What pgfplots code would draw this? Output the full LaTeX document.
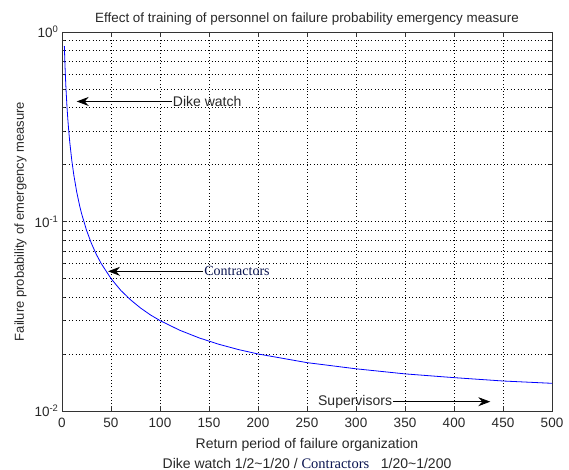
\documentclass[border=0pt]{standalone}
\usepackage{pgfplots}
\pgfplotsset{compat=1.18}
\usepackage{fontspec}
\setmainfont{Liberation Sans}
\newfontfamily\serifx{Liberation Serif}
\usetikzlibrary{arrows.meta}
\definecolor{navy}{RGB}{10,20,80}
\definecolor{txt}{RGB}{40,40,40}

\begin{document}
\begin{tikzpicture}
\path[use as bounding box] (0,0) rectangle (569pt,470pt);
\begin{axis}[
  at={(62pt,59pt)}, anchor=south west,
  scale only axis, width=490pt, height=379pt,
  ymode=log, xmin=0, xmax=500, ymin=0.01, ymax=1,
  xtick={0,50,...,500},
  ytick={0.01,0.1,1},
  yticklabels={10\textsuperscript{-2},10\textsuperscript{-1},10\textsuperscript{0}},
  /pgf/number format/assume math mode=true,
  tick label style={font=\fontsize{13.5}{15}\selectfont, text=txt},
  xticklabel style={yshift=-4pt},
  tick align=inside, tick pos=both,
  major tick length=5pt, minor tick length=3pt,
  xmajorgrids, ymajorgrids, yminorgrids,
  major grid style={dash pattern=on 0.8pt off 2.6pt, black, line width=0.6pt},
  minor grid style={dash pattern=on 0.8pt off 2.6pt, black, line width=0.6pt},
  axis line style={line width=0.8pt, black!80},
  every tick/.style={black!80, line width=0.6pt},
  title={Effect of training of personnel on failure probability emergency measure},
  title style={font=\fontsize{13.4}{15}\selectfont, text=txt, yshift=-3pt},
  xlabel={Return period of failure organization\\Dike watch 1/2\textasciitilde1/20 / {\serifx\fontsize{14.5}{15}\selectfont\color{navy}Contractors}\ \ \ 1/20\textasciitilde1/200},
  xlabel style={font=\fontsize{14}{20}\selectfont, text=txt, align=center, yshift=-3pt},
  ylabel={Failure probability of emergency measure},
  ylabel style={font=\fontsize{13}{14}\selectfont, text=txt, yshift=1pt},
]
\addplot[blue, line width=0.8pt] coordinates {
(2.4,0.8433) (3,0.6767) (3.5,0.5814) (4,0.51) (5,0.41) (6,0.3433) (7,0.2957)
(8,0.26) (10,0.21) (12,0.1767) (15,0.1433) (18,0.1211) (20,0.11) (25,0.09)
(30,0.0767) (35,0.0671) (40,0.06) (50,0.05) (60,0.0433) (70,0.0386) (80,0.035)
(90,0.0322) (100,0.03) (120,0.0267) (140,0.0243) (160,0.0225) (180,0.0211)
(200,0.02) (250,0.018) (300,0.0167) (350,0.0157) (400,0.015) (450,0.0144) (500,0.014)
};
% annotations
\draw[-{Stealth[length=12pt,width=9pt,inset=4pt]}, black, line width=0.8pt]
  (axis cs:112,0.43) -- (axis cs:15,0.43);
\node[anchor=west, inner sep=1pt, text=txt, font=\fontsize{14}{15}\selectfont] at (axis cs:112,0.43) {Dike watch};
\draw[-{Stealth[length=12pt,width=9pt,inset=4pt]}, black, line width=0.8pt]
  (axis cs:144,0.0546) -- (axis cs:47,0.0546);
\node[anchor=west, inner sep=1pt, text=navy, font=\serifx\fontsize{14}{15}\selectfont] at (axis cs:144,0.0546) {Contractors};
\draw[-{Stealth[length=12pt,width=9pt,inset=4pt]}, black, line width=0.8pt]
  (axis cs:338,0.0112) -- (axis cs:437,0.0112);
\node[anchor=east, inner sep=1pt, text=txt, font=\fontsize{14}{15}\selectfont] at (axis cs:338,0.0112) {Supervisors};
\end{axis}
\end{tikzpicture}
\end{document}
